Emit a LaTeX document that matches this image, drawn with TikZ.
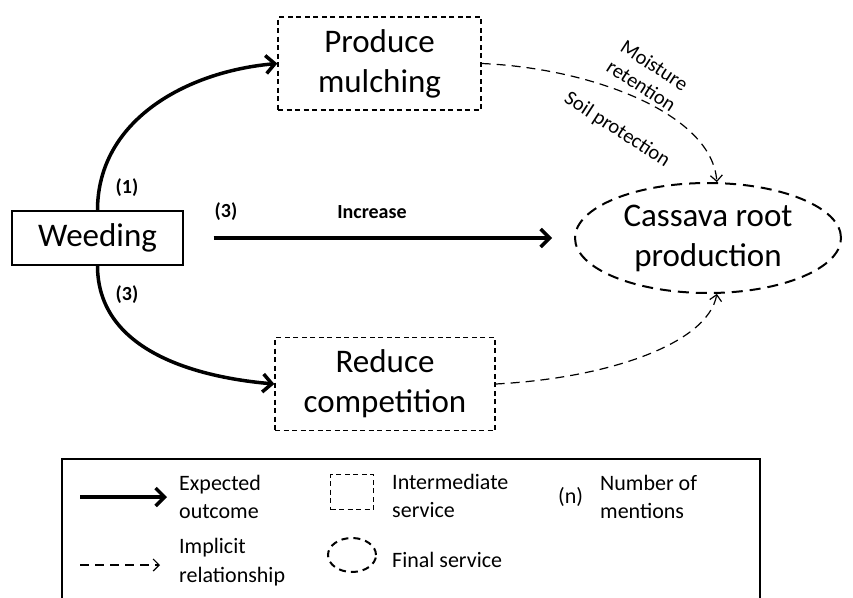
\documentclass[tikz,border=0pt]{standalone}
\usepackage{fontspec}
\setmainfont{Carlito}
\usetikzlibrary{arrows.meta,shapes.geometric}

\begin{document}
\begin{tikzpicture}[ x=1pt, y=1pt,
    >={Straight Barb[length=9pt,width=18pt]},
    action/.style={draw, line width=1.2pt, minimum width=171pt, minimum height=54pt, inner sep=0pt, font=\fontsize{33}{40}\selectfont},
    service/.style={draw, line width=1.3pt, dash pattern=on 5pt off 3.5pt, minimum width=203pt, minimum height=93pt, inner sep=0pt, align=center, font=\fontsize{33}{40}\selectfont},
    final/.style={draw, ellipse, line width=2pt, dash pattern=on 11pt off 7pt, minimum width=266pt, minimum height=110pt, inner sep=0pt, align=center, font=\fontsize{33}{40}\selectfont},
    expected/.style={->, line width=3.5pt},
    implicit/.style={-{Straight Barb[length=6pt,width=12pt]}, line width=1.2pt, dash pattern=on 9pt off 6pt},
    mention/.style={font=\fontsize{20}{24}\bfseries\selectfont},
    effect/.style={align=center, inner sep=0pt, font=\fontsize{20.5}{24}\selectfont},
    legtext/.style={anchor=west, align=left, inner sep=0pt, font=\fontsize{22}{28.5}\selectfont} ]

    \useasboundingbox (0,0) rectangle (853,-597);

% Khối

    \node[action] (weeding) at (97.5,-238) {Weeding};
    \node[service] (mulching) at (379.5,-63.5) {Produce\\mulching};
    \node[service, minimum width=220pt] (competition) at (385,-384) {Reduce\\competition};
    \node[final] (cassava) at (708,-238) {Cassava root\\production};

% Mũi tên chính

    \draw[expected] (weeding.north) to[out=90, in=185] (mulching.west);
    \draw[expected] (weeding.south) to[out=-90, in=175] (competition.west);
    \draw[expected, shorten <=30pt, shorten >=22pt] (weeding.east) -- (cassava.west);

% Quan hệ ngầm

    \draw[implicit] (mulching.east) .. controls (590,-68) and (712,-113) .. (cassava.81);
    \draw[implicit] (competition.east) .. controls (610,-378) and (708,-343) .. (cassava.-81);

% Nhãn

    \node[mention] (up) at (127,-188) {(1)};
    \node[mention] (mid) at (226,-212) {(3)};
    \node[mention] (increase) at (372,-212) {Increase};
    \node[mention] (down) at (127,-295) {(3)};
    \node[effect, rotate=-33] (moisture) at (648,-75.5) {Moisture\\retention};
    \node[effect, rotate=-33] (soil) at (617,-130) {Soil protection};

% Chú thích

    \draw[line width=1.3pt] (62,-600) |- (760,-459) -- (760,-600);

    \coordinate (e1) at (80,-497);
    \coordinate (e2) at (167,-497);
    \draw[expected] (e1) -- (e2);
    \node[legtext] (lexp) at (179,-497) {Expected\\outcome};

    \node[service, minimum width=43pt, minimum height=35pt] (lbox) at (352,-492) {};
    \node[legtext] (linter) at (392,-496) {Intermediate\\service};

    \node[legtext] (ln) at (558,-497) {(n)};
    \node[legtext] (lnum) at (600,-497) {Number of\\mentions};

    \coordinate (i1) at (80,-565);
    \coordinate (i2) at (160,-565);
    \draw[implicit] (i1) -- (i2);
    \node[legtext] (limp) at (179,-562) {Implicit\\relationship};

    \node[final, minimum width=48pt, minimum height=34pt, dash pattern=on 7pt off 5pt] (lell) at (352,-555) {};
    \node[legtext] (lfin) at (392,-560) {Final service};

\end{tikzpicture}
\end{document}
